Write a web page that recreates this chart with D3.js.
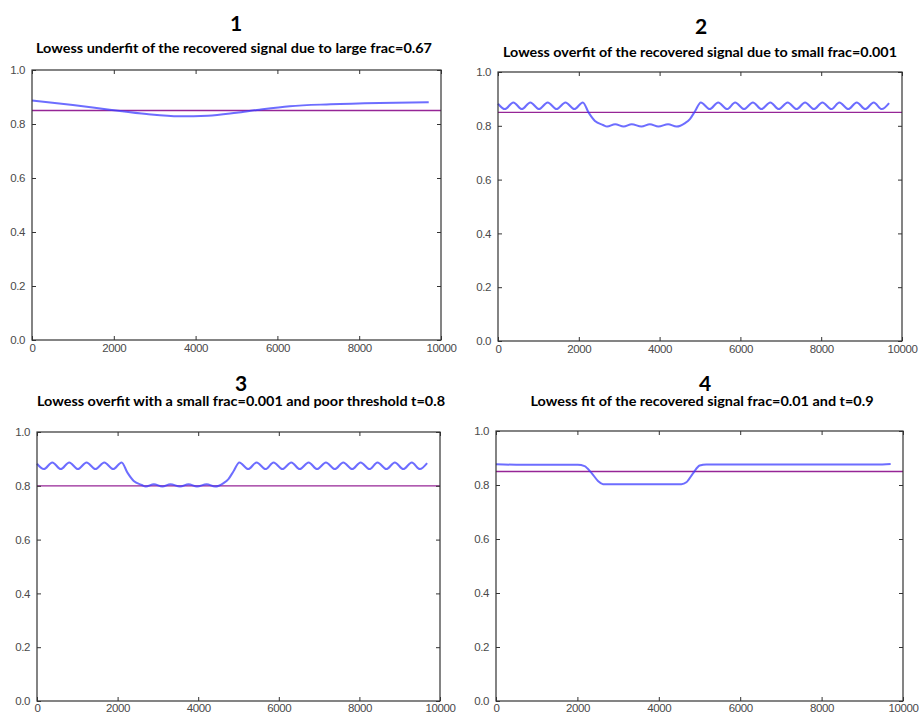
<!DOCTYPE html>
<html>
<head>
<meta charset="utf-8">
<script src="https://cdn.jsdelivr.net/npm/d3@7/dist/d3.min.js"></script>
<style>
  html, body { margin: 0; padding: 0; background: #ffffff; }
  svg { display: block; }
</style>
</head>
<body>
<svg id="chart" width="919" height="716"></svg>
<script>
// ---------------- DATA ----------------
const panelNumbers = ["1", "2", "3", "4"];
const panelTitles = [
  "Lowess underfit of the recovered signal due to large frac=0.67",
  "Lowess overfit of the recovered signal due to small frac=0.001",
  "Lowess overfit with a small frac=0.001 and poor threshold t=0.8",
  "Lowess fit of the recovered signal frac=0.01 and t=0.9"
];
const thresholds = [0.85, 0.85, 0.80, 0.85];

const xTickValues = [0, 2000, 4000, 6000, 8000, 10000];
const yTickValues = [0.0, 0.2, 0.4, 0.6, 0.8, 1.0];

// Panel 1: underfit (frac=0.67)
const underfitX = [0, 1000, 1900, 2800, 3600, 4300, 5000, 5500, 6300, 7300, 8500, 9700];
const underfitY = [0.887, 0.870, 0.853, 0.837, 0.829, 0.831, 0.842, 0.852, 0.866, 0.873, 0.878, 0.881];

// Panels 2 & 3: overfit (frac=0.001)
const overfitX = [0, 170, 380, 590, 800, 1015, 1230, 1450, 1670, 1890, 2100,
  2240, 2400, 2600, 2700, 2900, 3110, 3310, 3550, 3760, 3970, 4210, 4420,
  4630, 4750, 4880, 5020,
  5240, 5450, 5670, 5870, 6090, 6310, 6520, 6740, 6950, 7170, 7390, 7600,
  7820, 8030, 8250, 8450, 8670, 8880, 9090, 9300, 9500, 9680];
const overfitY = [0.882, 0.862, 0.887, 0.862, 0.887, 0.862, 0.887, 0.862, 0.887, 0.862, 0.887,
  0.850, 0.818, 0.803, 0.797, 0.806, 0.797, 0.806, 0.797, 0.806, 0.797, 0.806, 0.797,
  0.810, 0.825, 0.855, 0.887,
  0.862, 0.887, 0.862, 0.887, 0.862, 0.887, 0.862, 0.887, 0.862, 0.887, 0.862, 0.887,
  0.862, 0.887, 0.862, 0.887, 0.862, 0.887, 0.862, 0.887, 0.862, 0.884];

// Panel 4: good fit (frac=0.01)
const goodfitX = [0, 500, 1500, 2010, 2176, 2340, 2506, 2630, 3500, 4554, 4677, 4840, 5004, 5168, 7000, 9345, 9697];
const goodfitY = [0.877, 0.875, 0.875, 0.875, 0.870, 0.846, 0.815, 0.803, 0.803, 0.803, 0.810, 0.843, 0.872, 0.876, 0.876, 0.876, 0.878];

const seriesX = [underfitX, overfitX, overfitX, goodfitX];
const seriesY = [underfitY, overfitY, overfitY, goodfitY];

// ---------------- LAYOUT ----------------
const panels = [
  { left: 32,  right: 441, top: 70,  bottom: 340, numX: 236, numY: 31,  titleX: 234, titleY: 53,  titleW: 396, pad: 4 },
  { left: 498, right: 902, top: 72,  bottom: 341, numX: 701, numY: 34,  titleX: 700, titleY: 57,  titleW: 394, pad: 4 },
  { left: 37,  right: 440, top: 432, bottom: 701, numX: 241, numY: 391, titleX: 241, titleY: 406, titleW: 408, pad: 3 },
  { left: 496, right: 903, top: 431, bottom: 701, numX: 705, numY: 391, titleX: 702, titleY: 406, titleW: 343, pad: 3 }
];

const svg = d3.select("#chart");
svg.append("rect").attr("width", 919).attr("height", 716).attr("fill", "#ffffff");

const titleFont = "Lato, 'Open Sans', 'DejaVu Sans', sans-serif";
const tickFont = "'Liberation Sans', Arial, sans-serif";

panels.forEach((p, i) => {
  const x = d3.scaleLinear().domain([0, 10000]).range([p.left, p.right]);
  const y = d3.scaleLinear().domain([0, 1]).range([p.bottom, p.top]);
  const g = svg.append("g");

  // Panel number
  g.append("text")
    .attr("x", p.numX).attr("y", p.numY)
    .attr("text-anchor", "middle")
    .attr("font-family", titleFont)
    .attr("font-weight", "bold")
    .attr("font-size", 21)
    .attr("fill", "#000")
    .text(panelNumbers[i]);

  // Subtitle
  g.append("text")
    .attr("x", p.titleX).attr("y", p.titleY)
    .attr("text-anchor", "middle")
    .attr("font-family", titleFont)
    .attr("font-weight", "bold")
    .attr("font-size", 13)
    .attr("textLength", p.titleW)
    .attr("lengthAdjust", "spacingAndGlyphs")
    .attr("fill", "#000")
    .text(panelTitles[i]);

  // Data line
  const pts = seriesX[i].map((xv, k) => [xv, seriesY[i][k]]);
  const line = d3.line().x(d => x(d[0])).y(d => y(d[1])).curve(d3.curveMonotoneX);

  // Threshold line
  g.append("line")
    .attr("x1", x(0)).attr("x2", x(10000))
    .attr("y1", y(thresholds[i])).attr("y2", y(thresholds[i]))
    .attr("stroke", "#962596")
    .attr("stroke-width", 1.3);

  g.append("path")
    .datum(pts)
    .attr("d", line)
    .attr("fill", "none")
    .attr("stroke", "#3c3cff")
    .attr("stroke-opacity", 0.75)
    .attr("stroke-width", 2);

  // Axes (inward ticks)
  const fmtY = d3.format(".1f");
  const bottomAxis = d3.axisBottom(x).tickValues(xTickValues).tickFormat(d3.format("d"))
    .tickSizeInner(-4).tickSizeOuter(0).tickPadding(p.pad);
  const topAxis = d3.axisTop(x).tickValues(xTickValues).tickFormat("")
    .tickSizeInner(-4).tickSizeOuter(0);
  const leftAxis = d3.axisLeft(y).tickValues(yTickValues).tickFormat(fmtY)
    .tickSizeInner(-4).tickSizeOuter(0).tickPadding(7);
  const rightAxis = d3.axisRight(y).tickValues(yTickValues).tickFormat("")
    .tickSizeInner(-4).tickSizeOuter(0);

  const styleAxis = (sel) => {
    sel.select(".domain").remove();
    sel.selectAll(".tick line").attr("stroke", "#333").attr("stroke-width", 1);
    sel.selectAll(".tick text")
      .attr("fill", "#4a4a4a")
      .attr("font-family", tickFont)
      .attr("font-size", 11.5)
      .attr("letter-spacing", "-0.4px");
  };

  g.append("g").attr("transform", `translate(0,${p.bottom})`).call(bottomAxis).call(styleAxis);
  g.append("g").attr("transform", `translate(0,${p.top})`).call(topAxis).call(styleAxis);
  g.append("g").attr("transform", `translate(${p.left},0)`).call(leftAxis).call(styleAxis);
  g.append("g").attr("transform", `translate(${p.right},0)`).call(rightAxis).call(styleAxis);

  // Frame
  g.append("rect")
    .attr("x", p.left).attr("y", p.top)
    .attr("width", p.right - p.left).attr("height", p.bottom - p.top)
    .attr("fill", "none")
    .attr("stroke", "#333")
    .attr("stroke-width", 1.2);
});
</script>
</body>
</html>
